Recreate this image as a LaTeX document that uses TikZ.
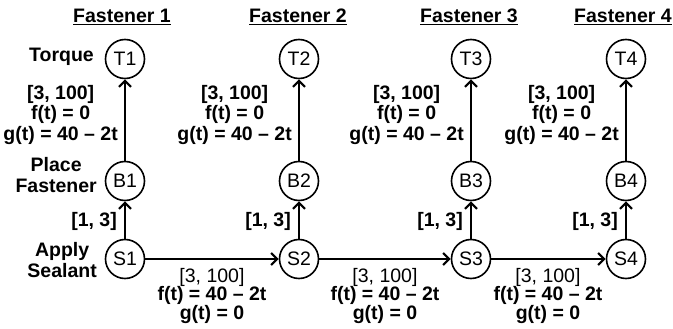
\documentclass[tikz,border=0pt]{standalone}
\usepackage{fontspec}
\setmainfont{Liberation Sans}
\usetikzlibrary{arrows.meta}
\begin{document}
\begin{tikzpicture}[x=1pt,y=-1pt,
  st/.style={circle,draw,line width=1.6pt,minimum size=39pt,inner sep=0pt,font=\fontsize{19.5}{20}\selectfont},
  lbl/.style={font=\fontsize{19.5}{20.5}\selectfont\bfseries,align=center,inner sep=0pt},
  hlbl/.style={font=\fontsize{19.5}{18.5}\selectfont\bfseries,align=center,inner sep=0pt},
  ttl/.style={font=\fontsize{19.5}{20}\selectfont\bfseries,inner sep=0pt},
  edge/.style={line width=2.4pt,-{Straight Barb[length=6pt,width=12pt,line width=2.2pt]}}]
\useasboundingbox (0,0) rectangle (673,329);
% titles
\node[ttl] (h1) at (122,17) {\underline{Fastener 1}};
\node[ttl] (h2) at (298,17) {\underline{Fastener 2}};
\node[ttl] (h3) at (469,17) {\underline{Fastener 3}};
\node[ttl] (h4) at (623,17) {\underline{Fastener 4}};
% nodes
\foreach \i/\x in {1/125,2/299,3/471,4/626}{
  \node[st] (T\i) at (\x,59) {T\i};
  \node[st] (B\i) at (\x,181) {B\i};
  \node[st] (S\i) at (\x,259) {S\i};
}
% row labels
\node[lbl,anchor=east] (lt) at (94,57) {Torque};
\node[lbl,anchor=east] (lp) at (97,175) {Place\\Fastener};
\node[lbl,anchor=east] (la) at (97,260) {Apply\\Sealant};
% edges
\foreach \i/\x in {1/125,2/299,3/471,4/626}{
  \draw[edge] (S\i) -- (B\i);
  \draw[edge] (B\i) -- (T\i);
  \node[lbl,anchor=east] (u\i) at (\x-7,115) {[3, 100]\\f(t) = 0\\g(t) = 40 – 2t};
  \node[lbl,anchor=east] (v\i) at (\x-8,221) {[1, 3]};
}
\draw[edge] (S1) -- (S2);
\draw[edge] (S2) -- (S3);
\draw[edge] (S3) -- (S4);
\node[hlbl] (w1) at (212,296) {{\mdseries [3, 100]}\\f(t) = 40 – 2t\\g(t) = 0};
\node[hlbl] (w2) at (385,296) {{\mdseries [3, 100]}\\f(t) = 40 – 2t\\g(t) = 0};
\node[hlbl] (w3) at (548,296) {{\mdseries [3, 100]}\\f(t) = 40 – 2t\\g(t) = 0};
\end{tikzpicture}
\end{document}
